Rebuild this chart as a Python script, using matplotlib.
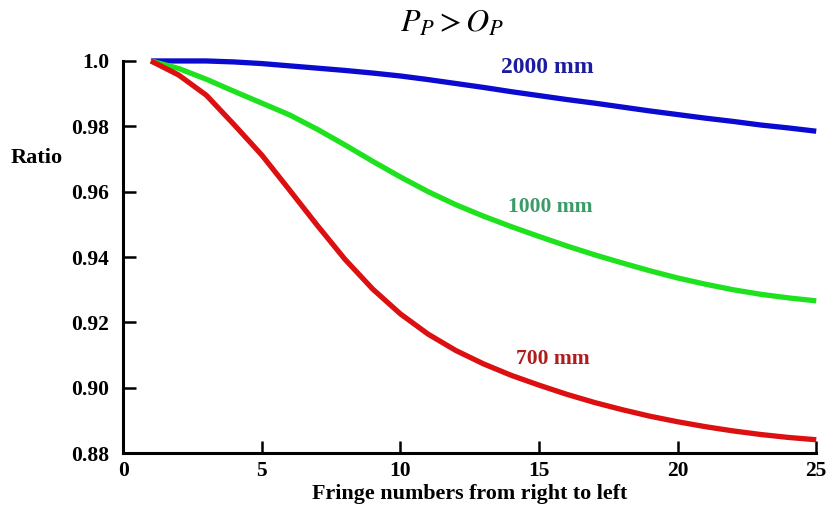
import matplotlib
matplotlib.use("Agg")
import matplotlib.pyplot as plt

# fringe number (right to left)
fringe = list(range(1, 26))

ratio_2000 = [1.0, 1.0, 1.0, 0.9997, 0.9992, 0.9985, 0.9978, 0.9971, 0.9963, 0.9954,
              0.9943, 0.9931, 0.9919, 0.9906, 0.9894, 0.9882, 0.9871, 0.9859, 0.9847,
              0.9836, 0.9825, 0.9815, 0.9804, 0.9795, 0.9785]
ratio_1000 = [1.0, 0.9977, 0.9944, 0.9907, 0.9871, 0.9835, 0.9791, 0.9743, 0.9693, 0.9645,
              0.9600, 0.9560, 0.9525, 0.9493, 0.9463, 0.9434, 0.9407, 0.9382, 0.9358,
              0.9336, 0.9317, 0.9300, 0.9286, 0.9275, 0.9266]
ratio_700 = [1.0, 0.9957, 0.9895, 0.9805, 0.9712, 0.9605, 0.9497, 0.9393, 0.9302, 0.9226,
             0.9164, 0.9114, 0.9073, 0.9038, 0.9008, 0.8980, 0.8955, 0.8933, 0.8913,
             0.8896, 0.8881, 0.8868, 0.8857, 0.8848, 0.8841]

series_labels = ["2000 mm", "1000 mm", "700 mm"]
xticks = [0, 5, 10, 15, 20, 25]
yticks = [0.88, 0.90, 0.92, 0.94, 0.96, 0.98, 1.0]
ytick_labels = ["0.88", "0.90", "0.92", "0.94", "0.96", "0.98", "1.0"]

plt.rcParams["font.family"] = ["Liberation Serif", "DejaVu Serif"]
plt.rcParams["mathtext.fontset"] = "stix"

fig = plt.figure(figsize=(8.27, 5.08), dpi=100)
ax = fig.add_axes([0.149, 0.108, 0.838, 0.772])

ax.plot(fringe, ratio_2000, color="#0a0ad0", lw=3.8, clip_on=False, solid_capstyle="butt")
ax.plot(fringe, ratio_1000, color="#1ee21e", lw=3.8, clip_on=False, solid_capstyle="butt")
ax.plot(fringe, ratio_700, color="#dc1010", lw=3.8, clip_on=False, solid_capstyle="butt")

ax.text(15.3, 0.998, series_labels[0], color="#1c1ca0", fontsize=17, fontweight="bold", ha="center", va="center")
ax.text(15.4, 0.9552, series_labels[1], color="#3a9a68", fontsize=15.5, fontweight="bold", ha="center", va="center")
ax.text(15.5, 0.9087, series_labels[2], color="#b01c1c", fontsize=15.5, fontweight="bold", ha="center", va="center")

ax.set_xlim(0, 25)
ax.set_ylim(0.88, 1.0)
ax.set_xticks(xticks)
ax.set_yticks(yticks)
ax.set_yticklabels(ytick_labels)
for s in ["top", "right"]:
    ax.spines[s].set_visible(False)
for s in ["left", "bottom"]:
    ax.spines[s].set_linewidth(2.2)
ax.tick_params(direction="in", length=9, width=1.8, labelsize=15.5)
ax.tick_params(axis="y", pad=10)
ax.tick_params(axis="x", pad=6)
for lab in ax.get_xticklabels() + ax.get_yticklabels():
    lab.set_fontweight("bold")

fig.text(470 / 827, 1 - 494 / 508, "Fringe numbers from right to left", fontsize=15.8, fontweight="bold",
         ha="center", va="center")
fig.text(37 / 827, 1 - 158 / 508, "Ratio", fontsize=16, fontweight="bold", ha="center", va="center")
fig.text(452 / 827, 1 - 24 / 508, r"$P_P > O_P$", fontsize=23, ha="center", va="center")

fig.savefig("out.png", dpi=100)
